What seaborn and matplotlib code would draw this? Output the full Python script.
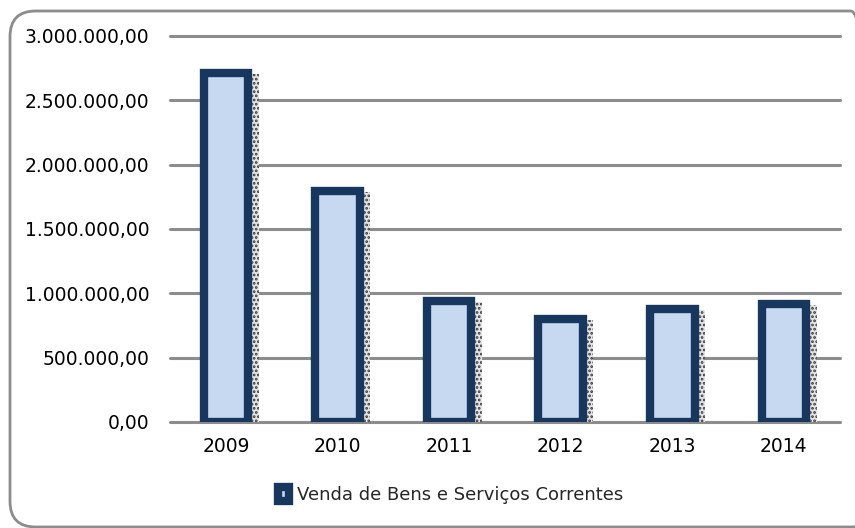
import matplotlib
matplotlib.use("Agg")
import matplotlib.pyplot as plt
import matplotlib.patheffects as pe
from matplotlib.patches import FancyBboxPatch
from matplotlib.ticker import FuncFormatter
import seaborn as sns
import pandas as pd

# Annual revenue from sales of goods and current services
years = ["2009", "2010", "2011", "2012", "2013", "2014"]
values = [2710000, 1795000, 940000, 800000, 878000, 913000]
series_name = "Venda de Bens e Serviços Correntes"

df = pd.DataFrame({"ano": years, "valor": values})

sns.set_theme(style="white")
plt.rcParams["font.family"] = ["DejaVu Sans"]
plt.rcParams["hatch.linewidth"] = 1.3

fig = plt.figure(figsize=(8.55, 5.28), dpi=100)
ax = fig.add_axes([0.199, 0.201, 0.783, 0.731])

sns.barplot(data=df, x="ano", y="valor", ax=ax, width=0.4,
            color="#c6d9f1", saturation=1, label=series_name, zorder=3)

# stippled drop shadow to the right of each bar
shadow = [pe.PathPatchEffect(offset=(7.5, -0.5), hatch="....",
                             facecolor="#e4e4e4", edgecolor="#3a3a3a", linewidth=0),
          pe.Normal()]
for bar in ax.patches:
    bar.set_edgecolor("#17375e")
    bar.set_linewidth(6)
    bar.set_path_effects(shadow)

ax.set_ylim(0, 3000000)
ax.set_yticks(range(0, 3000001, 500000))


def br_fmt(v, _pos):
    s = f"{v:,.2f}"
    return s.replace(",", "X").replace(".", ",").replace("X", ".")


ax.yaxis.set_major_formatter(FuncFormatter(br_fmt))
ax.grid(axis="y", color="#8c8c8c", linewidth=2.2, zorder=0)
for gl in ax.get_ygridlines():
    gl.set_clip_on(False)
ax.set_axisbelow(True)
for sp in ax.spines.values():
    sp.set_visible(False)
ax.tick_params(axis="both", length=0, labelsize=13.5, colors="black")
ax.tick_params(axis="y", pad=15)
ax.tick_params(axis="x", pad=11)
ax.set_xlabel("")
ax.set_ylabel("")

leg = ax.legend(loc="center", frameon=False, fontsize=13, handlelength=0.6,
                handleheight=0.75, handletextpad=0.45)
leg.set_bbox_to_anchor((0.527, 0.062), transform=fig.transFigure)
for h in leg.legend_handles:
    h.set_path_effects([])

# rounded chart-area border, running off the right edge
frame = FancyBboxPatch((10 / 855, 1 / 528), 1.025 - 10 / 855, 1 - 12 / 528,
                       boxstyle="round,pad=0,rounding_size=0.03",
                       transform=fig.transFigure, facecolor="none",
                       edgecolor="#8c8c8c", linewidth=2, clip_on=False,
                       mutation_aspect=855 / 528)
fig.patches.append(frame)

fig.savefig("out.png", dpi=100)
